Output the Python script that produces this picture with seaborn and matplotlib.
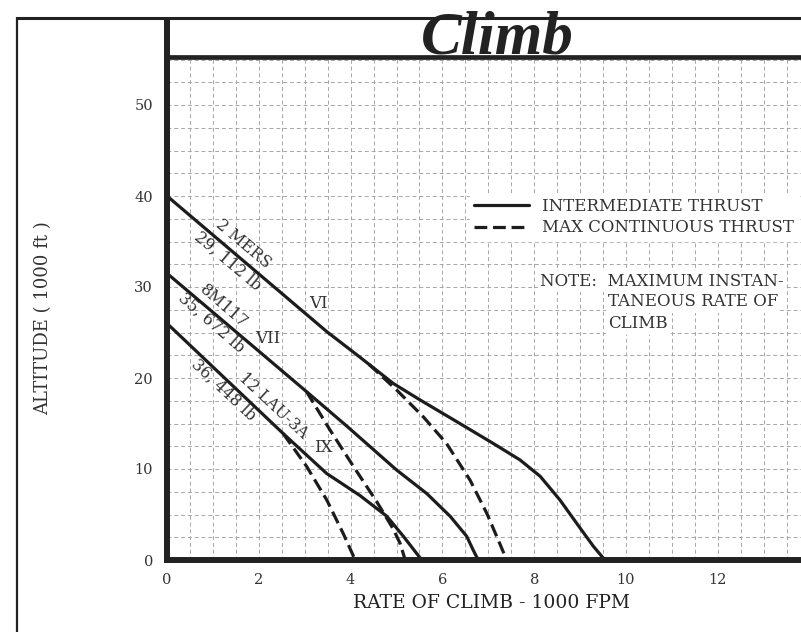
import numpy as np
import pandas as pd
import matplotlib
matplotlib.use("Agg")
import matplotlib.pyplot as plt
from matplotlib.lines import Line2D
import seaborn as sns

# ---------------- data ----------------
# Rate of climb (1000 FPM) vs altitude (1000 ft)
vi_int_x = [0.0, 3.48, 4.20, 4.93, 5.51, 6.38, 7.11, 7.69, 8.13, 8.56, 8.93, 9.29, 9.54]
vi_int_y = [40.0, 25.1, 22.3, 19.4, 17.6, 15.0, 12.8, 11.0, 9.2, 6.6, 4.0, 1.5, 0.0]
vi_max_x = [4.40, 5.00, 5.59, 6.09, 6.60, 6.97, 7.25, 7.40]
vi_max_y = [21.5, 18.7, 15.7, 12.8, 8.8, 5.1, 1.8, 0.0]

vii_int_x = [0.0, 3.04, 3.92, 5.00, 5.66, 6.17, 6.53, 6.67, 6.78]
vii_int_y = [31.5, 18.5, 14.7, 9.9, 7.3, 4.8, 2.6, 1.1, 0.0]
vii_max_x = [3.04, 3.55, 4.06, 4.57, 4.93, 5.08, 5.19]
vii_max_y = [18.5, 14.3, 10.3, 6.4, 3.4, 1.8, 0.0]

ix_int_x = [0.0, 2.53, 3.48, 4.20, 4.79, 5.15, 5.55]
ix_int_y = [26.0, 13.9, 9.5, 7.1, 4.8, 2.6, 0.0]
ix_max_x = [2.53, 3.04, 3.48, 3.84, 4.10]
ix_max_y = [13.9, 10.3, 6.6, 2.9, 0.0]

x_ticks = [0, 2, 4, 6, 8, 10, 12]
y_ticks = [0, 10, 20, 30, 40, 50]
legend_labels = ["INTERMEDIATE THRUST", "MAX CONTINUOUS THRUST"]
note_lines = ["NOTE:  MAXIMUM INSTAN-", "TANEOUS RATE OF", "CLIMB"]

# ---------------- styling ----------------
sns.set_theme(style="white")
plt.rcParams["font.family"] = ["DejaVu Serif", "DejaVu Sans"]

W, H = 801, 632
fig = plt.figure(figsize=(W / 100, H / 100), dpi=100)
fig.patch.set_facecolor("white")

PX_X = 45.9   # px per 1000 FPM
PX_Y = 9.1    # px per 1000 ft
x0_px, y0_px, top_px = 167, 560, 57
ax = fig.add_axes([x0_px / W, 1 - y0_px / H, (W - x0_px) / W, (y0_px - top_px) / H])
ax.set_xlim(0, (W - x0_px) / PX_X)
ax.set_ylim(0, (y0_px - top_px) / PX_Y)

LINE = "#1c1c1c"
TXT = "#333333"
DASH = (4, 1.8)

series = [
    (vi_int_x, vi_int_y, ""), (vi_max_x, vi_max_y, DASH),
    (vii_int_x, vii_int_y, ""), (vii_max_x, vii_max_y, DASH),
    (ix_int_x, ix_int_y, ""), (ix_max_x, ix_max_y, DASH),
]
for xs, ys, d in series:
    df = pd.DataFrame({"rate": xs, "alt": ys})
    sns.lineplot(data=df, x="rate", y="alt", ax=ax, color=LINE, lw=2.3,
                 estimator=None, sort=False, legend=False)
    line = ax.lines[-1]
    line.set_solid_capstyle("butt")
    line.set_solid_joinstyle("round")
    if d:
        line.set_dashes(d)

# grid
ax.set_xticks(x_ticks)
ax.set_yticks(y_ticks)
ax.set_xticks(np.arange(0, 14, 0.5), minor=True)
ax.set_yticks(np.arange(0, 56, 2.5), minor=True)
ax.grid(True, which="both", color="#a6a6a6", lw=0.7, ls=(0, (4, 3)))
ax.set_axisbelow(True)
ax.tick_params(which="both", length=0)
ax.tick_params(axis="x", pad=9, labelsize=10.5, labelcolor=TXT)
ax.tick_params(axis="y", pad=10, labelsize=10.5, labelcolor=TXT)
ax.set_xlabel("")
ax.set_ylabel("")

for s in ["left", "bottom"]:
    ax.spines[s].set_linewidth(4.3)
    ax.spines[s].set_color("#222222")
ax.spines["top"].set_linewidth(3.4)
ax.spines["top"].set_color("#222222")
ax.spines["right"].set_visible(False)

# curve labels
lab = dict(fontsize=11.5, color=TXT, ha="center", va="center", rotation_mode="anchor")
def px2d(px, py):
    return (px - x0_px) / PX_X, (y0_px - py) / PX_Y
for txt, (px, py), rot in [
    ("2 MERS", (243, 244), -40), ("29, 112 lb", (228, 261), -40),
    ("8M117", (223, 306), -41), ("35, 672 lb", (211, 323), -41),
    ("12 LAU-3A", (273, 406), -43), ("36, 448 lb", (223, 390), -43),
]:
    ax.text(*px2d(px, py), txt, rotation=rot, **lab)
for txt, (px, py) in [("VI", (318, 304)), ("VII", (268, 339)), ("IX", (323, 448))]:
    ax.text(*px2d(px, py), txt, fontsize=12, color=TXT, ha="center", va="center")

# legend
handles = [Line2D([], [], color=LINE, lw=2.3),
           Line2D([], [], color=LINE, lw=2.3, dashes=DASH)]
leg = ax.legend(handles, legend_labels, loc="upper left",
                bbox_to_anchor=(470 / W, 1 - 194 / H), bbox_transform=fig.transFigure,
                frameon=True, fancybox=False, framealpha=1, edgecolor="white",
                facecolor="white", fontsize=12, handlelength=3.3, handletextpad=0.8,
                labelspacing=0.25, borderpad=0.25, borderaxespad=0)
for t in leg.get_texts():
    t.set_color(TXT)

# note
bb = dict(facecolor="white", edgecolor="none", pad=1.5)
ax.text(*px2d(540, 281), note_lines[0], fontsize=12, color=TXT, ha="left", va="center", bbox=bb)
ax.text(*px2d(608, 302), note_lines[1], fontsize=12, color=TXT, ha="left", va="center", bbox=bb)
ax.text(*px2d(608, 324), note_lines[2], fontsize=12, color=TXT, ha="left", va="center", bbox=bb)

# axis titles
fig.text(491 / W, 1 - 603 / H, "RATE OF CLIMB - 1000 FPM", fontsize=13.5, color="#222222",
         ha="center", va="center")
fig.text(43 / W, 1 - 318 / H, "ALTITUDE ( 1000 ft )", fontsize=13, color=TXT,
         ha="center", va="center", rotation=90)

# frame and title band
def fline(xs, ys, lw, c="#222222"):
    fig.add_artist(Line2D([x / W for x in xs], [1 - y / H for y in ys],
                          transform=fig.transFigure, lw=lw, color=c, solid_capstyle="butt"))
fline([17, W], [18, 18], 2.2)
fline([17, 17], [17, H], 1.6)
fline([167, 167], [17, 60], 4.3)

fig.text(497 / W, 1 - 38 / H, "Climb", fontsize=44, family="Liberation Serif",
         style="italic", weight="bold", color="#222222", ha="center", va="center")

fig.savefig("out.png", dpi=100, facecolor="white")
